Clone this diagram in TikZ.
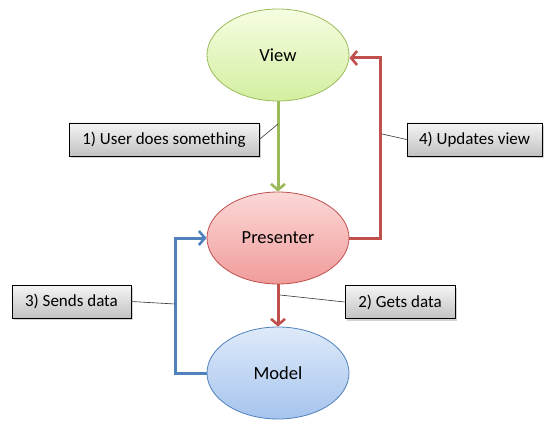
\documentclass[tikz,border=0pt]{standalone}
\usepackage{fontspec}
\setmainfont{Carlito}
\usetikzlibrary{arrows.meta,shadows,calc,shapes.geometric}
\definecolor{gline}{HTML}{9BBB59}
\definecolor{rline}{HTML}{C0504D}
\definecolor{bline}{HTML}{4F81BD}
\definecolor{vtop}{HTML}{F6FDE2}
\definecolor{vbot}{HTML}{D3EFA0}
\definecolor{ptop}{HTML}{FBD8D7}
\definecolor{pbot}{HTML}{F09C9A}
\definecolor{mtop}{HTML}{DEEAF9}
\definecolor{mbot}{HTML}{A6C4EE}
\tikzset{
  ell/.style={ellipse, minimum width=142pt, minimum height=92pt, font=\fontsize{18.5}{22}\selectfont, line width=0.8pt},
  viewst/.style={ell, draw=gline, top color=vtop, bottom color=vbot},
  presst/.style={ell, draw=rline, top color=ptop, bottom color=pbot},
  modelst/.style={ell, draw=bline, top color=mtop, bottom color=mbot},
  lbl/.style={draw=black, line width=0.6pt, top color=white!96!black, bottom color=black!24, font=\fontsize{17}{20}\selectfont, minimum height=33pt, inner xsep=6pt, drop shadow={shadow xshift=2pt, shadow yshift=-2pt, opacity=0.35}},
  flow/.style={line width=3pt, -{Straight Barb[length=6pt,width=14pt,line width=2.6pt]}},
  lead/.style={line width=0.6pt, draw=black!80}
}
\begin{document}
\begin{tikzpicture}[x=1pt,y=-1pt]
\useasboundingbox (0,0) rectangle (556,430);
\node[viewst] (view) at (278,55) {View};
\node[presst] (pres) at (278,238) {Presenter};
\node[modelst] (model) at (278,373) {Model};

\coordinate (rc1) at (380,238);
\coordinate (rc2) at (380,58);
\coordinate (bc1) at (175,373);
\coordinate (bc2) at (175,238);
\coordinate (gm) at (278,124);
\coordinate (rm) at (382,134);
\coordinate (pm) at (280,295);
\coordinate (bm) at (175,304);

\draw[flow, draw=gline] (view.south) -- (pres.north);
\draw[flow, draw=rline] (pres.east) -- (rc1) -- (rc2) -- (view.east |- rc2);
\draw[flow, draw=rline] (pres.south) -- (model.north);
\draw[flow, draw=bline] (model.west) -- (bc1) -- (bc2) -- (pres.west);

\node[lbl, minimum width=190pt] (l1) at (164,139.5) {1) User does something};
\node[lbl, minimum width=135pt] (l4) at (474.5,139.5) {4) Updates view};
\node[lbl, minimum width=110pt] (l2) at (400,302) {2) Gets data};
\node[lbl, minimum width=119pt] (l3) at (71.5,301.5) {3) Sends data};

\draw[lead] (l1.east) -- (gm);
\draw[lead] (l4.west) -- (rm);
\draw[lead] (l2.west) -- (pm);
\draw[lead] (l3.east) -- (bm);
\end{tikzpicture}
\end{document}
